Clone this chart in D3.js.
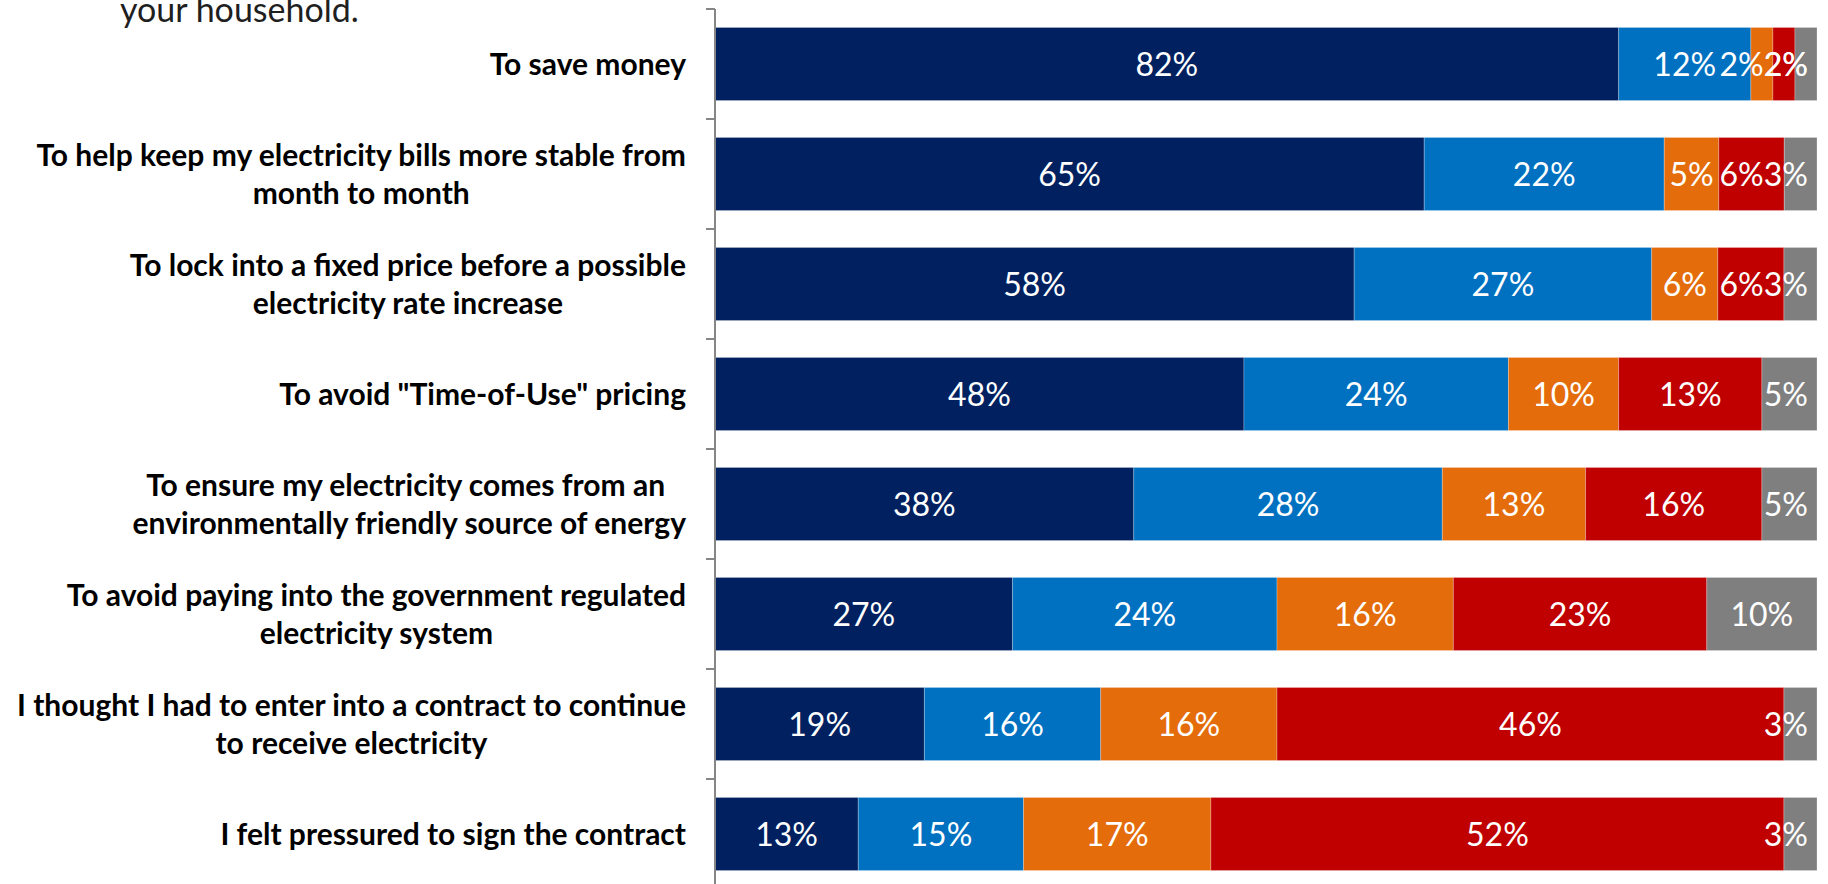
<!DOCTYPE html>
<html>
<head>
<meta charset="utf-8">
<script src="https://cdn.jsdelivr.net/npm/d3@7"></script>
<style>
  html, body { margin: 0; padding: 0; background: #ffffff; }
  svg { display: block; }
  text { font-family: Lato, "Noto Sans", sans-serif; }
</style>
</head>
<body>
<svg id="chart" width="1828" height="884"></svg>
<script>
// Reasons for signing an electricity contract, share of respondents (%)
const categories = [
  ["To save money"],
  ["To help keep my electricity bills more stable from", "month to month"],
  ["To lock into a fixed price before a possible", "electricity rate increase"],
  ["To avoid \"Time-of-Use\" pricing"],
  ["To ensure my electricity comes from an ", "environmentally friendly source of energy"],
  ["To avoid paying into the government regulated", "electricity system"],
  ["I thought I had to enter into a contract to continue", "to receive electricity"],
  ["I felt pressured to sign the contract"]
];

const seriesKeys = ["veryImportant", "somewhatImportant", "notVeryImportant", "notAtAllImportant", "dontKnow"];
const veryImportant     = [82, 65, 58, 48, 38, 27, 19, 13];
const somewhatImportant = [12, 22, 27, 24, 28, 24, 16, 15];
const notVeryImportant  = [2, 5, 6, 10, 13, 16, 16, 17];
const notAtAllImportant = [2, 6, 6, 13, 16, 23, 46, 52];
const dontKnow          = [2, 3, 3, 5, 5, 10, 3, 3];
const seriesColors = ["#002060", "#0070C0", "#E46C0A", "#C00000", "#7F7F7F"];

const titleTail = "your household.";

const seriesValues = [veryImportant, somewhatImportant, notVeryImportant, notAtAllImportant, dontKnow];
const rows = categories.map((lines, i) => {
  const r = { id: i, lines };
  seriesKeys.forEach((k, j) => { r[k] = seriesValues[j][i]; });
  return r;
});

const svg = d3.select("#chart");

const axisX = 715, plotRight = 1817;
const x = d3.scaleLinear().domain([0, 1]).range([axisX, plotRight]);
const y = d3.scaleBand()
  .domain(rows.map(r => r.id))
  .range([9, 889])
  .paddingInner(0.336)
  .paddingOuter(0.168);
const color = d3.scaleOrdinal().domain(seriesKeys).range(seriesColors);

const stacked = d3.stack().keys(seriesKeys).offset(d3.stackOffsetExpand)(rows);

// Last line of the question text above the chart (runs off the top edge)
svg.append("text")
  .attr("x", 120).attr("y", 22)
  .attr("font-size", 34)
  .attr("fill", "#1f1f1f")
  .text(titleTail);

// Stacked segments
const layers = svg.append("g").selectAll("g")
  .data(stacked).join("g")
  .attr("fill", d => color(d.key));

layers.selectAll("rect")
  .data(d => d.map(p => Object.assign(p, { key: d.key })))
  .join("rect")
  .attr("x", p => x(p[0]))
  .attr("y", p => y(p.data.id))
  .attr("width", p => x(p[1]) - x(p[0]))
  .attr("height", y.bandwidth())
  .attr("stroke", "#ffffff")
  .attr("stroke-opacity", 0.25)
  .attr("stroke-width", 1);

// Category axis: vertical line with ticks between bands
const axisG = svg.append("g");
axisG.append("line")
  .attr("x1", axisX).attr("x2", axisX)
  .attr("y1", y.range()[0]).attr("y2", 884)
  .attr("stroke", "#868686").attr("stroke-width", 2);
axisG.selectAll("line.tick")
  .data(d3.range(rows.length + 1))
  .join("line")
  .attr("class", "tick")
  .attr("x1", axisX - 9).attr("x2", axisX)
  .attr("y1", i => y.range()[0] + i * y.step())
  .attr("y2", i => y.range()[0] + i * y.step())
  .attr("stroke", "#868686").attr("stroke-width", 2);

// Category labels: each block right-aligned, lines centred within the block
const catSize = 30, lineH = 38, labelRight = 686;
rows.forEach(r => {
  const cy = y(r.id) + y.bandwidth() / 2;
  const g = svg.append("g");
  const texts = r.lines.map((ln, k) => g.append("text")
    .attr("font-size", catSize)
    .attr("font-weight", 700)
    .attr("fill", "#000000")
    .attr("text-anchor", "middle")
    .style("white-space", "pre")
    .attr("y", cy + (k - (r.lines.length - 1) / 2) * lineH + 0.36 * catSize)
    .text(ln));
  const w = d3.max(texts, t => t.node().getComputedTextLength());
  texts.forEach(t => t.attr("x", labelRight - w / 2));
});

// Value labels centred in each segment, kept inside the plot; a label that
// cannot be moved clear near its own segment sits on its right neighbour.
const valSize = 32, maxRight = plotRight - 9, gap = 0, slack = 12;
rows.forEach((r, i) => {
  const cy = y(r.id) + y.bandwidth() / 2;
  const segs = stacked.map(layer => ({
    key: layer.key,
    x0: x(layer[i][0]),
    x1: x(layer[i][1]),
    value: r[layer.key]
  }));
  const labels = segs.map(s => {
    const t = svg.append("text")
      .attr("font-size", valSize)
      .attr("fill", "#ffffff")
      .attr("text-anchor", "middle")
      .attr("y", cy + 0.36 * valSize)
      .text(s.value + "%");
    return { s, t, w: t.node().getComputedTextLength(), cx: (s.x0 + s.x1) / 2 };
  });
  let limit = maxRight, prev = null;
  for (let k = labels.length - 1; k >= 0; k--) {
    const L = labels[k];
    if (L.cx + L.w / 2 > limit) {
      const want = limit - L.w / 2;
      if (want >= L.s.x0 - slack || !prev) {
        L.cx = want;
      } else {
        L.cx = prev.cx;
        L.t.attr("x", L.cx);
        continue;
      }
    }
    L.t.attr("x", L.cx);
    limit = L.cx - L.w / 2 - gap;
    prev = L;
  }
});
</script>
</body>
</html>
